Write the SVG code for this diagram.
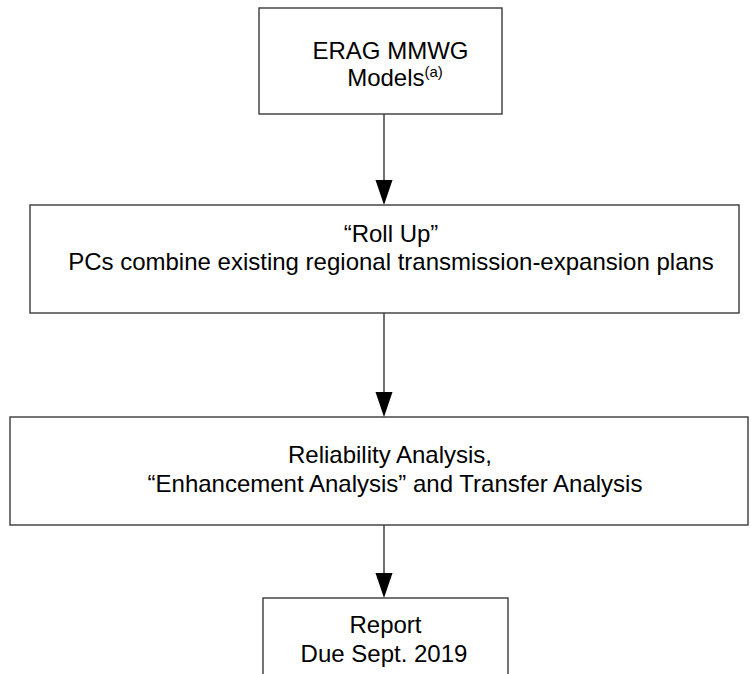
<svg xmlns="http://www.w3.org/2000/svg" width="751" height="674" viewBox="0 0 751 674">
<defs>
<style>
.box{fill:#ffffff;stroke:#3a3a3a;stroke-width:1.4}
.t{font-family:"Liberation Sans",Arial,sans-serif;font-size:24px;fill:#000;text-anchor:middle}
.sup{font-size:15px}
.conn{stroke:#222;stroke-width:1.3;fill:none}
.head{fill:#000;stroke:none}
</style>
</defs>
<rect width="751" height="674" fill="#ffffff"/>
<g id="connectors">
<line class="conn" x1="384" y1="114" x2="384" y2="182"/>
<polygon class="head" points="375.5,180 392.5,180 384,205"/>
<line class="conn" x1="384" y1="313" x2="384" y2="394"/>
<polygon class="head" points="375.5,392 392.5,392 384,417"/>
<line class="conn" x1="384" y1="525" x2="384" y2="575"/>
<polygon class="head" points="375.5,573 392.5,573 384,598"/>
</g>
<g id="node-erag">
<rect class="box" x="259" y="8" width="243" height="106"/>
<text class="t" x="390.5" y="59">ERAG MMWG</text>
<text class="t" x="395" y="86">Models<tspan class="sup" dy="-9">(a)</tspan></text>
</g>
<g id="node-rollup">
<rect class="box" x="30" y="205" width="709" height="108"/>
<text class="t" x="391" y="242">“Roll Up”</text>
<text class="t" x="391" y="270">PCs combine existing regional transmission-expansion plans</text>
</g>
<g id="node-analysis">
<rect class="box" x="10" y="417" width="738" height="108"/>
<text class="t" x="390" y="463">Reliability Analysis,</text>
<text class="t" x="395" y="492">“Enhancement Analysis” and Transfer Analysis</text>
</g>
<g id="node-report">
<rect class="box" x="263" y="598" width="245" height="90"/>
<text class="t" x="385.5" y="633">Report</text>
<text class="t" x="384" y="662">Due Sept. 2019</text>
</g>
</svg>
